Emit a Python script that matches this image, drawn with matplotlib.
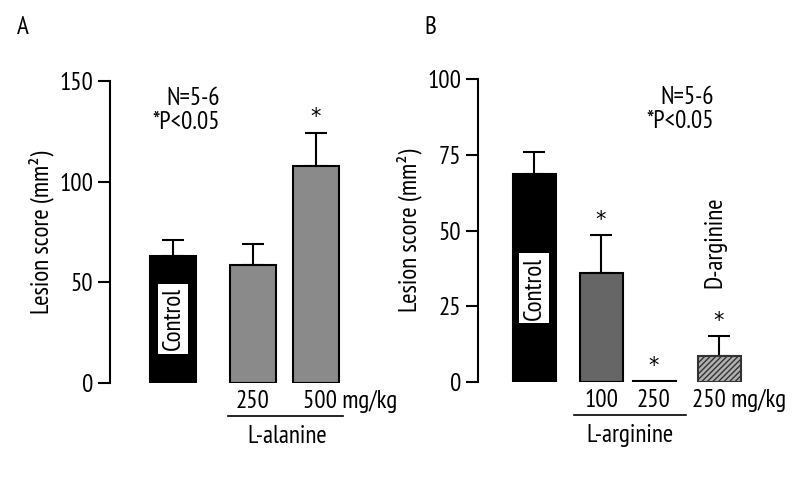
import matplotlib.pyplot as plt

plt.rcParams['font.family'] = ['PT Sans Narrow', 'Roboto Condensed', 'DejaVu Sans']
plt.rcParams['hatch.linewidth'] = 1.0

# panel A data
a_groups = ["Control", "250", "500"]
a_means = [63, 58.5, 108]
a_errs = [8, 10.5, 16]
a_sig = [False, False, True]

# panel B data
b_groups = ["Control", "100", "250", "D-250"]
b_means = [68.5, 36, 0.4, 8.7]
b_errs = [7.5, 12.5, 0, 6.5]
b_sig = [False, True, True, True]

FS = 18
STAR = 15

fig = plt.figure(figsize=(8, 4.78), dpi=100)

def style_axis(ax, ymax, ticks):
    for s in ["top", "right", "bottom"]:
        ax.spines[s].set_visible(False)
    ax.spines["left"].set_linewidth(1.5)
    ax.set_ylim(0, ymax)
    ax.set_yticks(ticks)
    ax.tick_params(axis="y", direction="out", length=9, width=1.5, labelsize=FS, pad=3)
    ax.set_xticks([])
    ax.set_ylabel("Lesion score (mm²)", fontsize=FS, labelpad=4)

# ---- panel A ----
axA = fig.add_axes([110/800, 95/478, 240/800, 302/478])
posA = [63, 143, 206]
colsA = ["black", "#8a8a8a", "#8a8a8a"]
axA.bar(posA, a_means, width=46, color=colsA, edgecolor="black", linewidth=1.5, zorder=2)
axA.errorbar(posA, a_means, yerr=[[0]*3, a_errs], fmt="none", ecolor="black",
             elinewidth=1.5, capsize=8, capthick=1.5, zorder=1)
style_axis(axA, 150, [0, 50, 100, 150])
axA.set_xlim(0, 240)
for p, m, e, s in zip(posA, a_means, a_errs, a_sig):
    if s:
        axA.text(p, m + e + 3, "*", ha="center", va="bottom", fontsize=STAR,
                 family="DejaVu Sans")
axA.text(posA[0], 32, "Control", rotation=90, ha="center", va="center", fontsize=FS,
         bbox=dict(facecolor="white", edgecolor="none", pad=2.5))
axA.text(110, 141.5, "N=5-6", ha="right", va="center", fontsize=FS)
axA.text(110, 129.5, "*P<0.05", ha="right", va="center", fontsize=FS)
axA.text(posA[1], -9, "250", ha="center", va="center", fontsize=FS, clip_on=False)
axA.text(posA[2] - 13, -9, "500 mg/kg", ha="left", va="center", fontsize=FS, clip_on=False)
axA.plot([118, 233], [-16.5, -16.5], color="black", lw=1.2, clip_on=False)
axA.text(177, -26.5, "L-alanine", ha="center", va="center", fontsize=FS, clip_on=False)
fig.text(23/800, 1 - 28/478, "A", fontsize=FS, ha="center", va="center")

# ---- panel B ----
axB = fig.add_axes([478/800, 96/478, 300/800, 303/478])
posB = [56, 123, 176, 241]
colsB = ["black", "#666666", "#666666", "#b0b0b0"]
bars = axB.bar(posB, b_means, width=43, color=colsB, edgecolor="black", linewidth=1.5, zorder=2)
bars[3].set_hatch("//////")
bars[3].set_edgecolor("#333333")
axB.errorbar([posB[0], posB[1], posB[3]], [b_means[0], b_means[1], b_means[3]],
             yerr=[[0]*3, [b_errs[0], b_errs[1], b_errs[3]]], fmt="none", ecolor="black",
             elinewidth=1.5, capsize=8, capthick=1.5, zorder=1)
style_axis(axB, 100, [0, 25, 50, 75, 100])
axB.set_xlim(0, 300)
for p, m, e, s in zip(posB, b_means, b_errs, b_sig):
    if s:
        axB.text(p, m + e + 1.5, "*", ha="center", va="bottom", fontsize=STAR,
                 family="DejaVu Sans")
axB.text(posB[0], 31, "Control", rotation=90, ha="center", va="center", fontsize=FS,
         bbox=dict(facecolor="white", edgecolor="none", pad=2.5))
axB.text(posB[3] - 4, 46, "D-arginine", rotation=90, ha="center", va="center", fontsize=FS)
axB.text(236, 94, "N=5-6", ha="right", va="center", fontsize=FS)
axB.text(236, 86, "*P<0.05", ha="right", va="center", fontsize=FS)
axB.text(posB[1], -6, "100", ha="center", va="center", fontsize=FS, clip_on=False)
axB.text(posB[2], -6, "250", ha="center", va="center", fontsize=FS, clip_on=False)
axB.text(posB[3] - 27, -6, "250 mg/kg", ha="left", va="center", fontsize=FS, clip_on=False)
axB.plot([96, 208], [-11, -11], color="black", lw=1.2, clip_on=False)
axB.text(152, -17.5, "L-arginine", ha="center", va="center", fontsize=FS, clip_on=False)
fig.text(430/800, 1 - 28/478, "B", fontsize=FS, ha="center", va="center")

fig.savefig("out.png", dpi=100)
